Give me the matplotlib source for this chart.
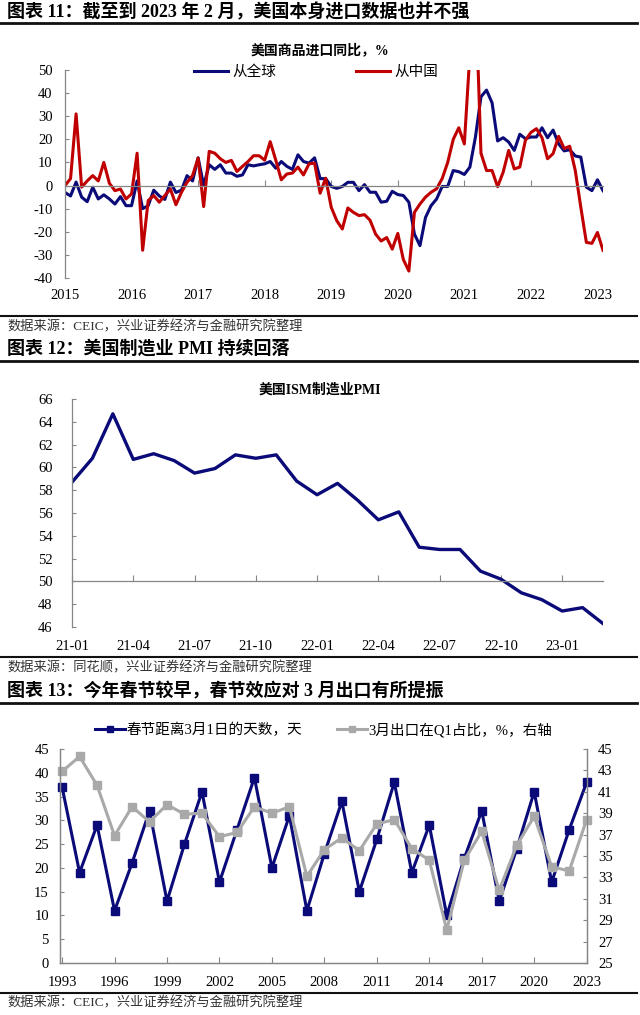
import matplotlib
matplotlib.use('Agg')
import matplotlib.pyplot as plt
from matplotlib.lines import Line2D
import numpy as np

W, H = 640, 1015
CJK = 'Noto Sans CJK SC'
SERIF = 'Liberation Serif'
plt.rcParams['font.family'] = [SERIF, CJK]
plt.rcParams['axes.unicode_minus'] = False

NAVY = '#0A0A78'
RED = '#C00000'
GRAYL = '#A9A9A9'
AX = '#868686'

# ---------------- Panel 1 data: US goods imports YoY (%), 2015-01 .. 2023-02 ----------
imp_start_year = 2015
global_yoy = [
    -3, -4.5, 1.5, -5, -7, -0.7, -5.8, -4, -5.8, -8, -4.8, -8.7,        # 2015
    -8.7, 2, -10, -8.7, -2, -4.5, -6, 1.5, -3, -2, 4.3, 2,               # 2016
    12, 0, 9, 7, 9, 5.4, 5.4, 4, 4.6, 9, 8.5, 9,                         # 2017
    9.4, 10.4, 7.5, 10.4, 8.3, 7, 13.3, 10.4, 9.7, 12, 3, 3,             # 2018
    -0.4, -1.2, -0.4, 1.4, 1.4, -2.2, 0.4, -2.9, -2.9, -7.2, -6.8, -2.5, # 2019
    -3.9, -4.3, -7.2, -21, -26, -13.8, -8.7, -5.8, -0.4, -0.4, 6.5, 6,   # 2020
    4.8, 8, 21, 38.4, 41.3, 35.8, 19.3, 20.7, 18.8, 15.2, 22.2, 20.3,    # 2021
    21, 21, 25, 20.7, 24, 18, 15, 15.5, 12.8, 12.3, -0.7, -2.2,          # 2022
    2.5, -2.2,                                                           # 2023
]
china_yoy = [
    0, 3, 31, -0.7, 2, 4.3, 2, 10, 1, -2.2, -1.5, -5.8,                  # 2015
    -3.6, 14, -28, -6.5, -4.3, -7.2, -4.3, -1.5, -8.3, -2.9, 1.4, 4.3,   # 2016
    11.9, -9.1, 14.8, 14, 11.6, 10, 10.9, 6.1, 8.3, 10.4, 12.9, 12.9,    # 2017
    11, 19, 11, 2.5, 5, 5.4, 8, 4.6, 9.4, 9.7, -3.3, 3.2,                # 2018
    -9.4, -15.2, -18.8, -9.7, -11.6, -13, -12.6, -15, -21, -24, -22.5, -27.5,  # 2019
    -20.7, -32, -37, -11.6, -8, -5, -2.9, -1.4, 3, 10, 20, 25,           # 2020
    18, 57, 85, 14, 6.5, 6.5, -0.5, 5.8, 15.2, 7.2, 8, 19.5,             # 2021
    23, 24.6, 20.7, 11.6, 13.8, 21.3, 16, 17, 6.5, -9.4, -24.6, -25,     # 2022
    -20.3, -28,                                                          # 2023
]
imp_year_ticks = [2015, 2016, 2017, 2018, 2019, 2020, 2021, 2022, 2023]
imp_names = ['从全球', '从中国']

# ---------------- Panel 2 data: US ISM manufacturing PMI, 2021-01 .. 2023-03 ----------
pmi = [58.7, 60.8, 64.7, 60.7, 61.2, 60.6, 59.5, 59.9, 61.1, 60.8, 61.1, 58.8,
       57.6, 58.6, 57.1, 55.4, 56.1, 53.0, 52.8, 52.8, 50.9, 50.2, 49.0, 48.4,
       47.4, 47.7, 46.3]
pmi_tick_labels = ['21-01', '21-04', '21-07', '21-10', '22-01', '22-04', '22-07', '22-10', '23-01']

# ---------------- Panel 3 data ----------
sf_years = list(range(1993, 2024))
sf_days = [37, 19, 29, 11, 21, 32, 13, 25, 36, 17, 28, 39, 20, 31, 11,
           23, 34, 15, 26, 38, 19, 29, 10, 22, 32, 13, 24, 36, 17, 28, 38]
mar_share = [42.9, 44.3, 41.6, 36.9, 39.6, 38.2, 39.8, 38.9, 39.0, 36.8, 37.2, 39.6, 39.0, 39.6, 33.1,
             35.6, 36.7, 35.5, 38.0, 38.4, 35.7, 34.6, 28.1, 34.6, 37.3, 31.8, 36.0, 38.7, 34.0, 33.6, 38.4]
sf_names = ['春节距离3月1日的天数，天', '3月出口在Q1占比，%，右轴']
sf_tick_years = [1993, 1996, 1999, 2002, 2005, 2008, 2011, 2014, 2017, 2020, 2023]

fig = plt.figure(figsize=(6.4, 10.15), dpi=100)


def ax_rect(l, t, r, b):
    return [l / W, 1 - b / H, (r - l) / W, (b - t) / H]


def fx(x):
    return x / W


def fy(y):
    return 1 - y / H


def hline(y, lw, x0=0, x1=637, color='#111111'):
    fig.add_artist(Line2D([fx(x0), fx(x1)], [fy(y), fy(y)], transform=fig.transFigure,
                          color=color, lw=lw))


def style_axis(ax, zero_at, xticks, xlabels, pad_lbl):
    for s in ['top', 'right']:
        ax.spines[s].set_visible(False)
    ax.spines['left'].set_color(AX)
    ax.spines['bottom'].set_color(AX)
    ax.spines['left'].set_linewidth(0.9)
    ax.spines['bottom'].set_linewidth(0.9)
    ax.spines['bottom'].set_position(('data', zero_at))
    ax.set_xticks(xticks)
    ax.tick_params(axis='x', direction='in', length=4, color=AX, labelbottom=False)
    ax.tick_params(axis='y', direction='in', length=3, color=AX, labelsize=10.5, pad=9)
    sec = ax.secondary_xaxis('bottom')
    sec.set_xticks(xticks, labels=xlabels)
    sec.tick_params(length=0, pad=pad_lbl, labelsize=10.5)
    sec.spines['bottom'].set_visible(False)
    return sec


# ================= Panel 1 =================
fig.text(fx(7), fy(12), '图表 11：截至到 2023 年 2 月，美国本身进口数据也并不强',
         fontsize=13, fontweight='bold', va='center', ha='left')
hline(23, 2.0)
fig.text(fx(320), fy(50), '美国商品进口同比，%', fontsize=10, fontweight='bold',
         ha='center', va='center')

ax1 = fig.add_axes(ax_rect(65, 70, 603, 278))
x1 = [imp_start_year + i / 12 for i in range(len(global_yoy))]
ax1.plot(x1, global_yoy, color=NAVY, lw=2.2, label=imp_names[0], solid_joinstyle='round')
ax1.plot(x1, china_yoy, color=RED, lw=2.2, label=imp_names[1], solid_joinstyle='round')
ax1.set_xlim(x1[0], x1[-1])
ax1.set_ylim(-40, 50)
ax1.set_yticks(range(-40, 51, 10))
style_axis(ax1, 0, imp_year_ticks, [str(y) for y in imp_year_ticks], 8)
ax1.legend(loc='center', bbox_to_anchor=(fx(316), fy(72)), bbox_transform=fig.transFigure,
           ncol=2, frameon=False, fontsize=10.5, handlelength=2.3, handletextpad=0.3,
           columnspacing=5.5)

hline(316, 1.5)
fig.text(fx(7), fy(327), '数据来源：CEIC，兴业证券经济与金融研究院整理', fontsize=9.5,
         color='#333333', va='center')

# ================= Panel 2 =================
fig.text(fx(7), fy(349), '图表 12：美国制造业 PMI 持续回落', fontsize=13, fontweight='bold',
         va='center')
hline(361, 2.0)
fig.text(fx(320), fy(390), '美国ISM制造业PMI', fontsize=10, fontweight='bold',
         ha='center', va='center')

ax2 = fig.add_axes(ax_rect(72, 399, 603, 627))
x2 = list(range(len(pmi)))
ax2.plot(x2, pmi, color=NAVY, lw=2.4, solid_joinstyle='round')
ax2.set_xlim(0, len(pmi) - 1)
ax2.set_ylim(46, 66)
ax2.set_yticks(range(46, 67, 2))
style_axis(ax2, 50, list(range(0, len(pmi), 3))[:len(pmi_tick_labels)], pmi_tick_labels, 9)
ax2.tick_params(axis='y', pad=14)

hline(657, 1.5)
fig.text(fx(7), fy(668), '数据来源：同花顺，兴业证券经济与金融研究院整理', fontsize=9.5,
         color='#333333', va='center')

# ================= Panel 3 =================
fig.text(fx(7), fy(691), '图表 13：今年春节较早，春节效应对 3 月出口有所提振', fontsize=13,
         fontweight='bold', va='center')
hline(703, 2.0)

ax3 = fig.add_axes(ax_rect(60, 749, 587, 963))
l1, = ax3.plot(sf_years, sf_days, color=NAVY, lw=2.2, marker='s', ms=6, clip_on=False,
               label=sf_names[0])
ax3.set_xlim(1992.88, 2023.02)
ax3.set_ylim(0, 45)
ax3.set_yticks(range(0, 46, 5))
ax3r = ax3.twinx()
l2, = ax3r.plot(sf_years, mar_share, color=GRAYL, lw=2.2, marker='s', ms=6, clip_on=False,
                label=sf_names[1])
ax3r.set_ylim(25, 45)
ax3r.set_yticks(range(25, 46, 2))
for a in (ax3, ax3r):
    a.spines['top'].set_visible(False)
    for s in ['left', 'right', 'bottom']:
        a.spines[s].set_color(AX)
        a.spines[s].set_linewidth(0.9)
ax3.set_xticks(sf_tick_years)
ax3.set_xticklabels([str(y) for y in sf_tick_years])
ax3.tick_params(axis='x', direction='in', length=4, color=AX, labelsize=10.5, pad=9)
ax3.tick_params(axis='y', direction='in', length=3, color=AX, labelsize=10.5, pad=8)
ax3r.tick_params(axis='y', direction='in', length=3, color=AX, labelsize=10.5, pad=8)
ax3r.legend(handles=[l1, l2], loc='center', bbox_to_anchor=(fx(324), fy(730)),
            bbox_transform=fig.transFigure, ncol=2, frameon=False, fontsize=10.5,
            handlelength=2.0, handletextpad=0.15, columnspacing=2.4, markerscale=0.8)

hline(993, 1.5)
fig.text(fx(7), fy(1003), '数据来源：CEIC，兴业证券经济与金融研究院整理', fontsize=9.5,
         color='#333333', va='center')

fig.savefig('out.png', dpi=100)
